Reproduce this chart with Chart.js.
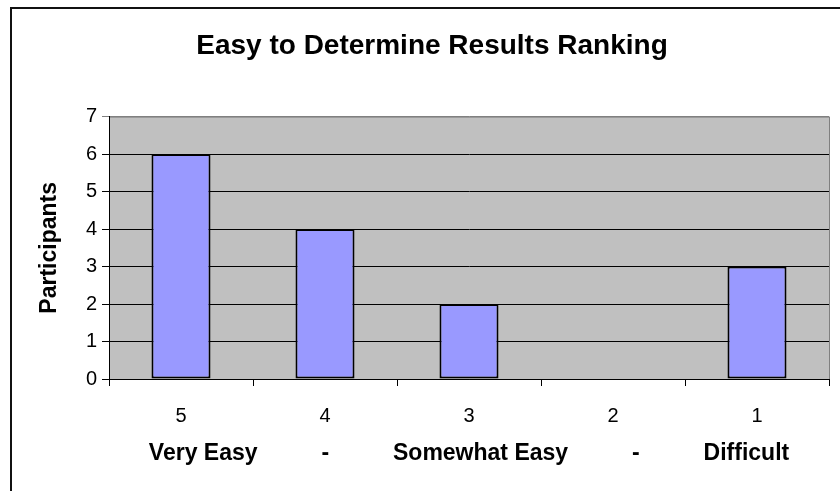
<!DOCTYPE html>
<html lang="en">
<head>
    <meta charset="UTF-8">
    <title>Easy to Determine Results Ranking</title>
    <style>
        body {
          margin: 0;
          background: #fff;
          font-family: "Liberation Sans", Arial, sans-serif;
        }

        .wrap {
            position: relative;
            width: 840px;
            height: 491px;
            overflow: hidden;
        }

        .frame {
            position: absolute;
            left: 10px;
            top: 7px;
            width: 900px;
            height: 600px;
            border-top: 2px solid #111;
            border-left: 2px solid #111;
        }

        canvas {
            position: absolute;
            left: 0;
            top: 0;
        }
    </style>
</head>
<body>

<div class="wrap">
    <div class="frame"></div>
    <canvas id="myChart" width="840" height="491"></canvas>
</div>

<script src="https://cdn.jsdelivr.net/npm/chart.js@4.4.1/dist/chart.umd.min.js"></script>
<script>
    // values
    var ratings = ['5', '4', '3', '2', '1'];
    var participants = [6, 4, 2, 0, 3];
    var descriptors = ['Very Easy', '-', 'Somewhat Easy', '-', 'Difficult'];
    var yMin = 0, yMax = 7, yStep = 1;

    var fontFamily = '"Liberation Sans", Arial, sans-serif';
    Chart.defaults.color = '#000';
    Chart.defaults.font.family = fontFamily;

    // gray plot area like the old spreadsheet charts
    var plotBackground = {
        id: 'plotBackground',
        beforeDraw: function(chart) {
            var a = chart.chartArea;
            var ctx = chart.ctx;
            ctx.save();
            ctx.fillStyle = '#c0c0c0';
            ctx.fillRect(a.left, a.top, a.right - a.left, a.bottom - a.top);
            ctx.strokeStyle = '#808080';
            ctx.lineWidth = 1;
            ctx.strokeRect(a.left + 0.5, a.top + 0.5, a.right - a.left, a.bottom - a.top);
            ctx.restore();
        }
    };

    var ctx = document.getElementById('myChart').getContext('2d');
    var myChart = new Chart(ctx, {
        type: 'bar',
        data: {
            labels: ratings,
            datasets: [{
                label: 'Participants',
                data: participants,
                backgroundColor: '#9999ff',
                borderColor: '#000',
                borderWidth: 2,
                borderSkipped: false,
                barPercentage: 0.41,
                categoryPercentage: 1
            }]
        },
        options: {
            responsive: false,
            animation: false,
            devicePixelRatio: 1,
            // left padding nudges the title centre to where it sits in the original
            layout: { padding: { left: 35, right: 11, top: 0, bottom: 0 } },
            plugins: {
                legend: { display: false },
                tooltip: { enabled: false },
                title: {
                    display: true,
                    text: 'Easy to Determine Results Ranking',
                    color: '#000',
                    font: { size: 28, weight: 'bold', family: fontFamily },
                    padding: { top: 29, bottom: 54 }
                }
            },
            scales: {
                x: {
                    grid: {
                        offset: true,
                        drawOnChartArea: false,
                        color: '#000',
                        tickLength: 7
                    },
                    border: { color: '#000', width: 1 },
                    ticks: {
                        font: { size: 20 },
                        padding: 18,
                        maxRotation: 0
                    },
                    title: {
                        display: true,
                        text: descriptors.join(' '.repeat(10)),
                        font: { size: 23, weight: 'bold' },
                        padding: { top: 0, bottom: 24 }
                    },
                    afterFit: function(scale) { scale.height = 112; }
                },
                y: {
                    min: yMin,
                    max: yMax,
                    grid: {
                        color: function(c) { return c.tick && c.tick.value === yMax ? '#808080' : '#000'; },
                        tickLength: 7
                    },
                    border: { color: '#000', width: 1 },
                    ticks: {
                        stepSize: yStep,
                        font: { size: 20 },
                        padding: 5
                    },
                    title: {
                        display: true,
                        text: 'Participants',
                        font: { size: 23, weight: 'bold' },
                        padding: { top: 1, bottom: 0 }
                    },
                    afterFit: function(scale) { scale.width = 74; }
                }
            }
        },
        plugins: [plotBackground]
    });
</script>

</body>
</html>
